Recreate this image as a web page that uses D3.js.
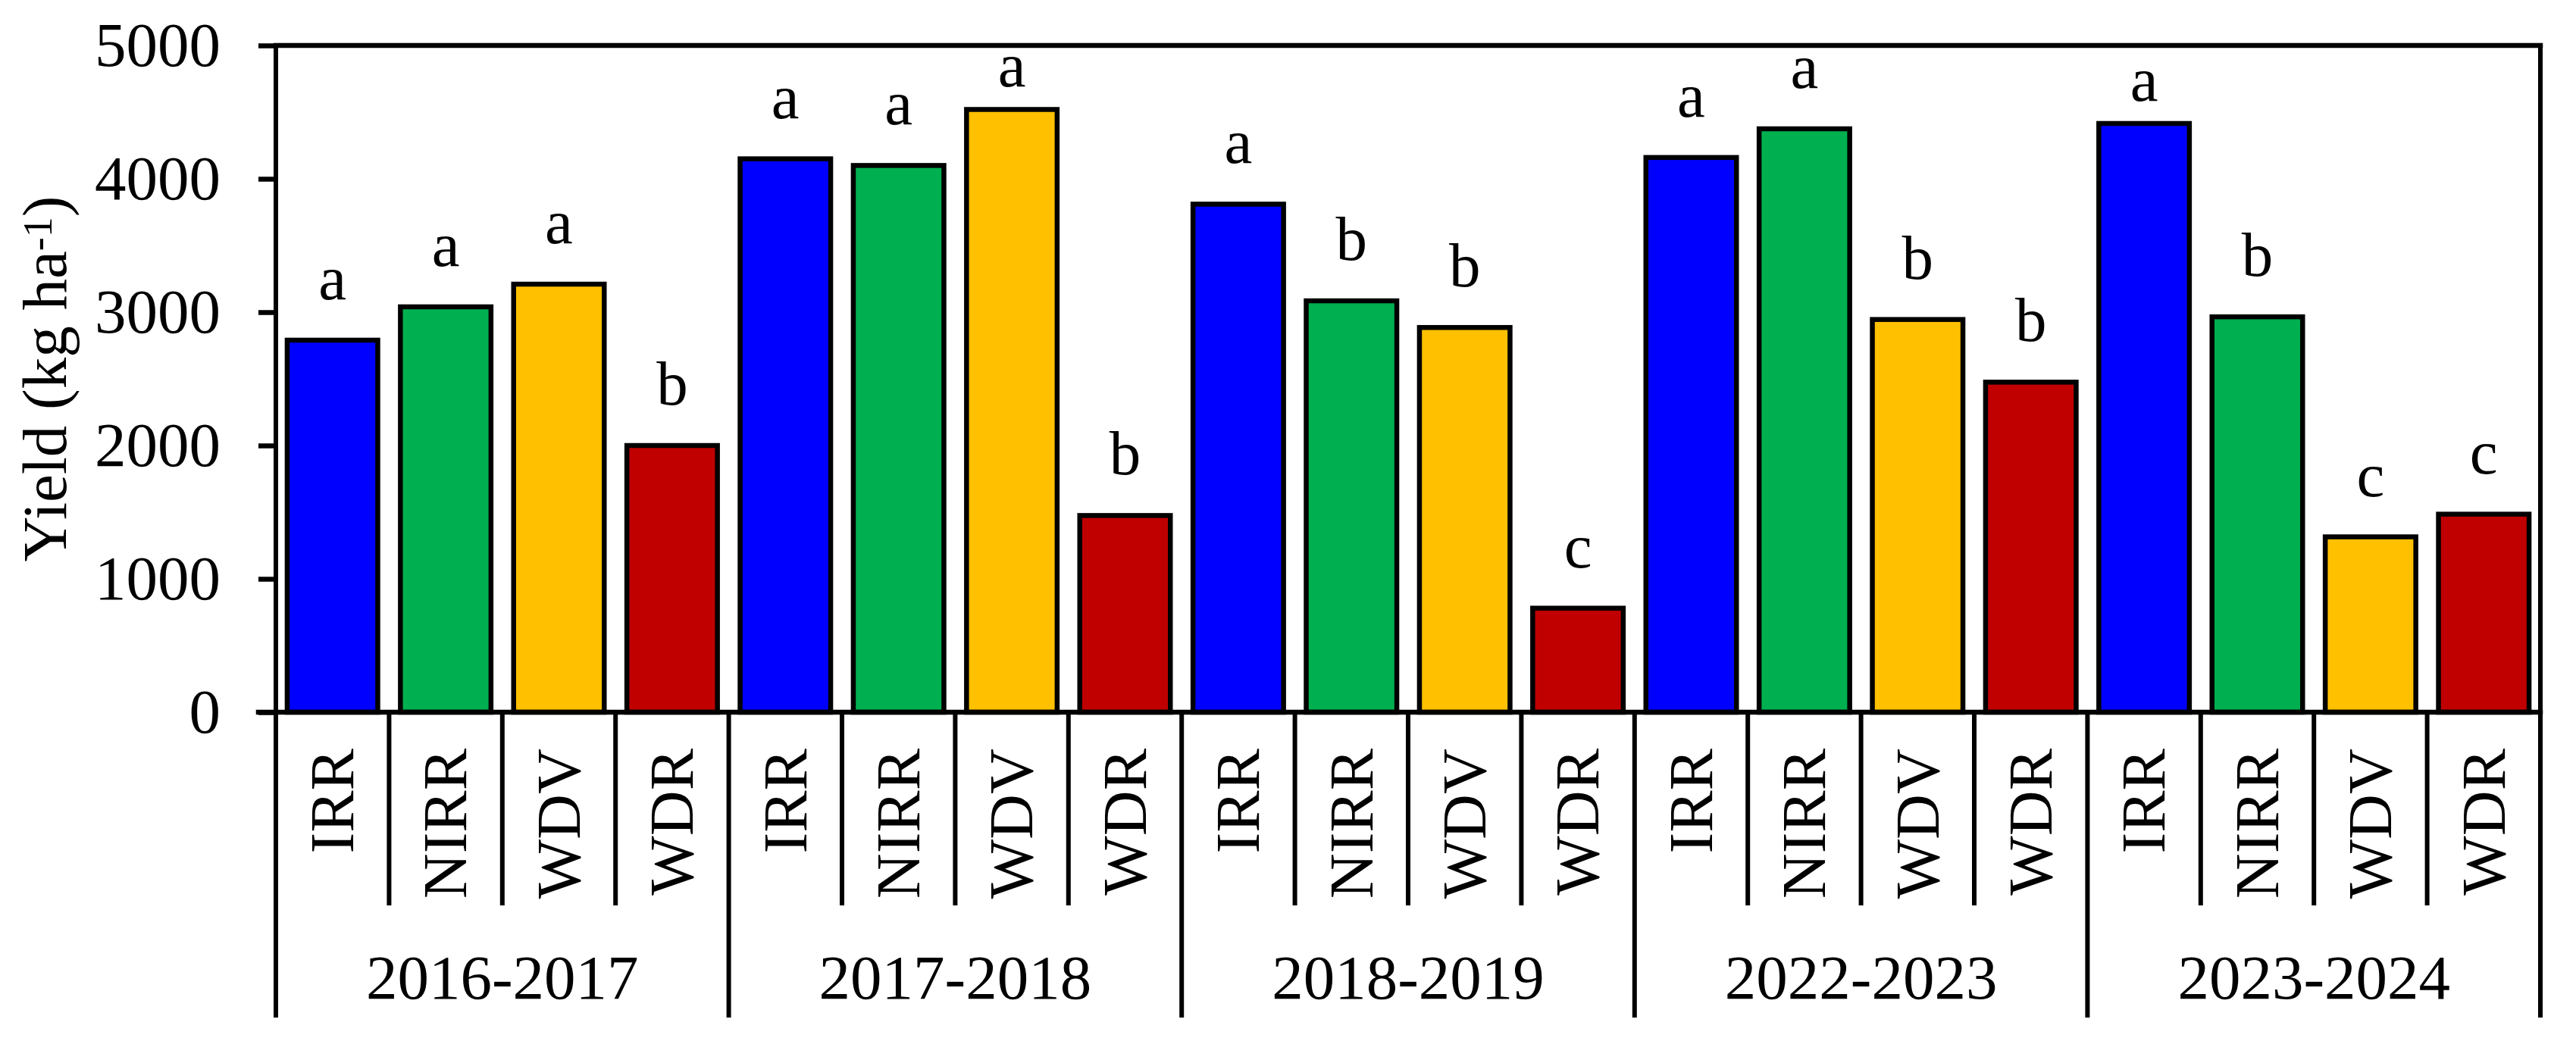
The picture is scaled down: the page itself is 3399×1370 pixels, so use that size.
<!DOCTYPE html>
<html>
<head>
<meta charset="utf-8">
<script src="https://cdn.jsdelivr.net/npm/d3@7"></script>
<style>
  body { margin: 0; background: #fff; }
  svg text { font-family: "Liberation Serif", "Times New Roman", serif; fill: #000; }
</style>
</head>
<body>
<div id="chart"></div>
<script>
// seasons and treatments
var seasons = ["2016-2017", "2017-2018", "2018-2019", "2022-2023", "2023-2024"];
var treatments = ["IRR", "NIRR", "WDV", "WDR"];
var colors = ["#0000FF", "#00B050", "#FFC000", "#C00000"];

// yield (kg ha-1) per treatment, one value per season
var irr  = [2790, 4150, 3810, 4160, 4415];
var nirr = [3040, 4100, 3085, 4375, 2965];
var wdv  = [3210, 4520, 2885, 2945, 1315];
var wdr  = [2000, 1475, 780, 2475, 1485];

// letters of significance, same layout
var irrLetters  = ["a", "a", "a", "a", "a"];
var nirrLetters = ["a", "a", "b", "a", "b"];
var wdvLetters  = ["a", "a", "b", "b", "c"];
var wdrLetters  = ["b", "b", "c", "b", "c"];

var yTicks = [0, 1000, 2000, 3000, 4000, 5000];

var width = 3399, height = 1370;
var plotLeft = 364, plotRight = 3352, plotTop = 60, plotBottom = 940;
var fontSize = 83;
var lineW = 6.5;

var values = [irr, nirr, wdv, wdr];
var letters = [irrLetters, nirrLetters, wdvLetters, wdrLetters];

// flat list of bars, built from the arrays above
var bars = [];
seasons.forEach(function(s, i) {
  treatments.forEach(function(t, j) {
    bars.push({season: s, treatment: t, value: values[j][i], letter: letters[j][i], color: colors[j]});
  });
});

var x0 = d3.scaleBand().domain(seasons).range([plotLeft, plotRight]).padding(0);
var x1 = d3.scaleBand().domain(treatments).range([0, x0.bandwidth()])
  .paddingInner(0.2).paddingOuter(0.1);
var y = d3.scaleLinear().domain([0, 5000]).range([plotBottom, plotTop]);

var svg = d3.select("#chart").append("svg")
  .attr("width", width)
  .attr("height", height);

svg.append("rect").attr("width", width).attr("height", height).attr("fill", "#fff");

// bars
var bar = svg.selectAll(".bar")
  .data(bars)
  .enter().append("g")
  .attr("class", "bar")
  .attr("transform", function(d) { return "translate(" + x0(d.season) + ",0)"; });

bar.append("rect")
  .attr("x", function(d) { return x1(d.treatment); })
  .attr("y", function(d) { return y(d.value); })
  .attr("width", x1.bandwidth())
  .attr("height", function(d) { return y(0) - y(d.value); })
  .attr("fill", function(d) { return d.color; })
  .attr("stroke", "#000")
  .attr("stroke-width", lineW);

// letters above bars; pulled closer when they would hit the top line
bar.append("text")
  .attr("x", function(d) { return x1(d.treatment) + x1.bandwidth() / 2; })
  .attr("y", function(d) {
    var yb = y(d.value) - 54;
    return yb < plotTop + 52 ? y(d.value) - 30 : yb;
  })
  .attr("text-anchor", "middle")
  .style("font-size", fontSize + "px")
  .text(function(d) { return d.letter; });

// y axis
var yAxis = svg.append("g")
  .attr("transform", "translate(" + plotLeft + ",0)")
  .call(d3.axisLeft(y).tickValues(yTicks).tickFormat(d3.format("d"))
    .tickSize(23).tickSizeOuter(0).tickPadding(50));
yAxis.select(".domain").remove();
yAxis.selectAll(".tick line").attr("stroke", "#000").attr("stroke-width", lineW);
yAxis.selectAll(".tick text")
  .style("font-size", fontSize + "px")
  .style("font-family", "'Liberation Serif', 'Times New Roman', serif")
  .attr("fill", "#000");

// frame: top line and x axis line
var frame = svg.append("g").attr("stroke", "#000").attr("stroke-width", lineW).attr("stroke-linecap", "square");
frame.append("line").attr("x1", plotLeft).attr("x2", plotRight).attr("y1", y(5000)).attr("y2", y(5000));
frame.append("line").attr("x1", plotLeft - 23).attr("x2", plotRight).attr("y1", y(0)).attr("y2", y(0));

// separators below the axis: short between treatments, long between seasons
var slots = d3.range(seasons.length * treatments.length + 1);
var step = x0.bandwidth() / treatments.length;
svg.append("g").selectAll("line")
  .data(slots)
  .enter().append("line")
  .attr("x1", function(i) { return plotLeft + i * step; })
  .attr("x2", function(i) { return plotLeft + i * step; })
  .attr("y1", function(i) { return (i === 0 || i === slots.length - 1) ? y(5000) - 3 : y(0); })
  .attr("y2", function(i) { return i % treatments.length === 0 ? 1343 : 1195; })
  .attr("stroke", "#000")
  .attr("stroke-width", 6);

// treatment labels, rotated
svg.append("g").selectAll("text")
  .data(bars)
  .enter().append("text")
  .attr("transform", function(d) {
    return "translate(" + (x0(d.season) + x1(d.treatment) + x1.bandwidth() / 2) + ",988) rotate(-90)";
  })
  .attr("dy", "0.33em")
  .attr("text-anchor", "end")
  .style("font-size", fontSize + "px")
  .text(function(d) { return d.treatment; });

// season labels
svg.append("g").selectAll("text")
  .data(seasons)
  .enter().append("text")
  .attr("x", function(d) { return x0(d) + x0.bandwidth() / 2; })
  .attr("y", 1318)
  .attr("text-anchor", "middle")
  .style("font-size", fontSize + "px")
  .text(function(d) { return d; });

// y axis title with superscript
var title = svg.append("text")
  .attr("transform", "translate(87," + (plotTop + plotBottom) / 2 + ") rotate(-90)")
  .attr("text-anchor", "middle")
  .style("font-size", fontSize + "px");
title.append("tspan").text("Yield (kg ha");
title.append("tspan").attr("dy", -19).style("font-size", "54px").text("-1");
title.append("tspan").attr("dy", 19).text(")");
</script>
</body>
</html>
